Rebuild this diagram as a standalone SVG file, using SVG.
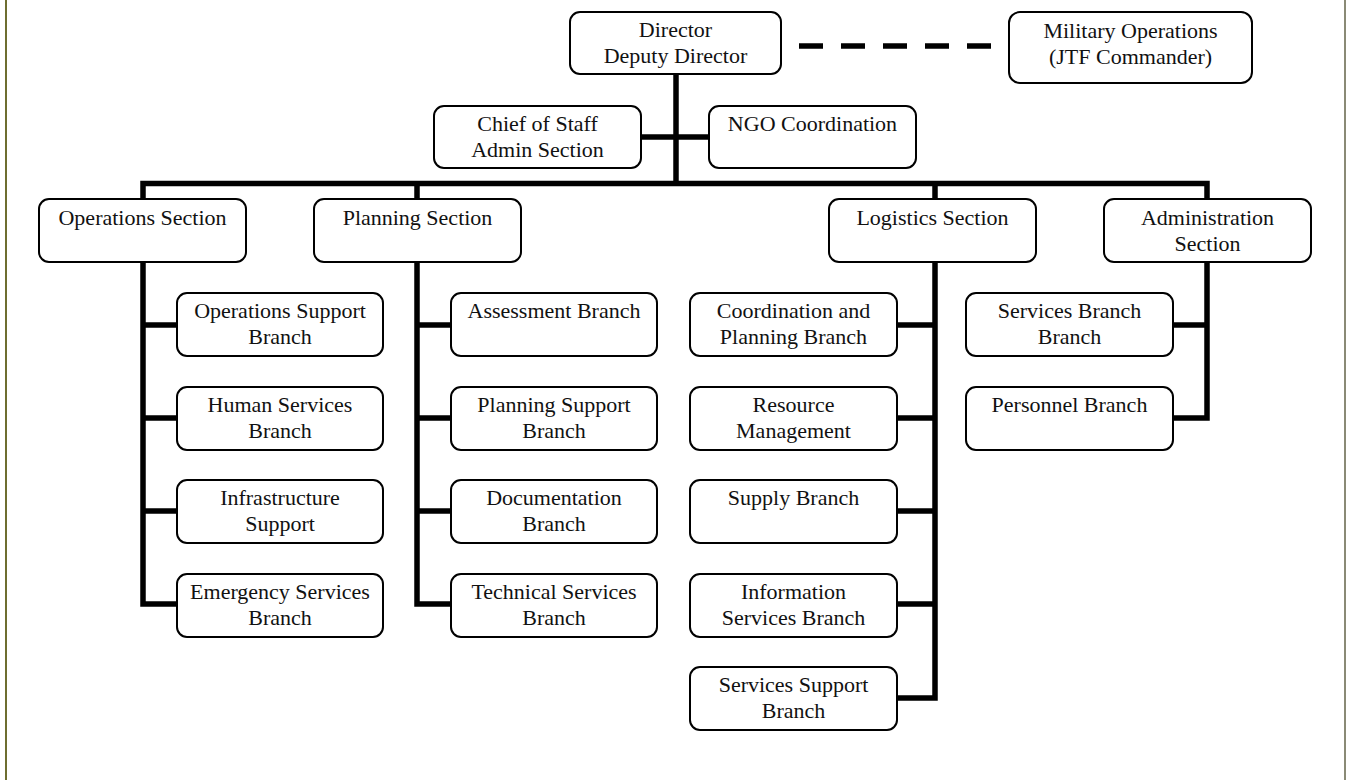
<svg xmlns="http://www.w3.org/2000/svg" width="1346" height="780" viewBox="0 0 1346 780">
<style>
.box{fill:#fff;stroke:#000;stroke-width:2}
.t{font-family:"Liberation Serif","Times New Roman",serif;font-size:22px;fill:#111;text-anchor:middle}
.c{fill:none;stroke:#000;stroke-width:5.5;stroke-linejoin:miter;stroke-linecap:butt}
.d{fill:none;stroke:#000;stroke-width:5.5;stroke-dasharray:24 18}
</style>
<rect x="0" y="0" width="1346" height="780" fill="#fff"/>
<line x1="6" y1="0" x2="6" y2="780" stroke="#6e6e30" stroke-width="2"/>
<line x1="1345" y1="0" x2="1345" y2="780" stroke="#8a8a76" stroke-width="2"/>
<g id="connectors">
<line class="d" x1="799" y1="46" x2="992" y2="46"/>
<path class="c" d="M676,74 V186"/>
<path class="c" d="M641,137 H709"/>
<path class="c" d="M143,199 V183.5 H1207 V199 M417,183.5 V199 M935,183.5 V199"/>
<path class="c" d="M143,262 V604 H177 M143,325 H177 M143,418 H177 M143,511 H177"/>
<path class="c" d="M417,262 V604 H451 M417,325 H451 M417,418 H451 M417,511 H451"/>
<path class="c" d="M935,262 V698 H897 M935,325 H897 M935,418 H897 M935,511 H897 M935,604 H897"/>
<path class="c" d="M1207,262 V418 H1173 M1207,325 H1173"/>
</g>
<g id="director"><rect class="box" x="570" y="12" width="211" height="62" rx="10"/><text class="t" x="675.5" y="37">Director</text><text class="t" x="675.5" y="63">Deputy Director</text></g>
<g id="military"><rect class="box" x="1009" y="12" width="243" height="71" rx="11"/><text class="t" x="1130.5" y="38">Military Operations</text><text class="t" x="1130.5" y="64">(JTF Commander)</text></g>
<g id="chief"><rect class="box" x="434" y="106" width="207" height="62" rx="10"/><text class="t" x="537.5" y="131">Chief of Staff</text><text class="t" x="537.5" y="157">Admin Section</text></g>
<g id="ngo"><rect class="box" x="709" y="106" width="207" height="62" rx="10"/><text class="t" x="812.5" y="131">NGO Coordination</text></g>
<g id="ops"><rect class="box" x="39" y="199" width="207" height="63" rx="10"/><text class="t" x="142.5" y="225">Operations Section</text></g>
<g id="plan"><rect class="box" x="314" y="199" width="207" height="63" rx="10"/><text class="t" x="417.5" y="225">Planning Section</text></g>
<g id="log"><rect class="box" x="829" y="199" width="207" height="63" rx="10"/><text class="t" x="932.5" y="225">Logistics Section</text></g>
<g id="adm"><rect class="box" x="1104" y="199" width="207" height="63" rx="10"/><text class="t" x="1207.5" y="225">Administration</text><text class="t" x="1207.5" y="251">Section</text></g>
<g id="ops1"><rect class="box" x="177" y="293" width="206" height="63" rx="10"/><text class="t" x="280" y="318">Operations Support</text><text class="t" x="280" y="344">Branch</text></g>
<g id="ops2"><rect class="box" x="177" y="387" width="206" height="63" rx="10"/><text class="t" x="280" y="412">Human Services</text><text class="t" x="280" y="438">Branch</text></g>
<g id="ops3"><rect class="box" x="177" y="480" width="206" height="63" rx="10"/><text class="t" x="280" y="505">Infrastructure</text><text class="t" x="280" y="531">Support</text></g>
<g id="ops4"><rect class="box" x="177" y="574" width="206" height="63" rx="10"/><text class="t" x="280" y="599">Emergency Services</text><text class="t" x="280" y="625">Branch</text></g>
<g id="plan1"><rect class="box" x="451" y="293" width="206" height="63" rx="10"/><text class="t" x="554" y="318">Assessment Branch</text></g>
<g id="plan2"><rect class="box" x="451" y="387" width="206" height="63" rx="10"/><text class="t" x="554" y="412">Planning Support</text><text class="t" x="554" y="438">Branch</text></g>
<g id="plan3"><rect class="box" x="451" y="480" width="206" height="63" rx="10"/><text class="t" x="554" y="505">Documentation</text><text class="t" x="554" y="531">Branch</text></g>
<g id="plan4"><rect class="box" x="451" y="574" width="206" height="63" rx="10"/><text class="t" x="554" y="599">Technical Services</text><text class="t" x="554" y="625">Branch</text></g>
<g id="log1"><rect class="box" x="690" y="293" width="207" height="63" rx="10"/><text class="t" x="793.5" y="318">Coordination and</text><text class="t" x="793.5" y="344">Planning Branch</text></g>
<g id="log2"><rect class="box" x="690" y="387" width="207" height="63" rx="10"/><text class="t" x="793.5" y="412">Resource</text><text class="t" x="793.5" y="438">Management</text></g>
<g id="log3"><rect class="box" x="690" y="480" width="207" height="63" rx="10"/><text class="t" x="793.5" y="505">Supply Branch</text></g>
<g id="log4"><rect class="box" x="690" y="574" width="207" height="63" rx="10"/><text class="t" x="793.5" y="599">Information</text><text class="t" x="793.5" y="625">Services Branch</text></g>
<g id="log5"><rect class="box" x="690" y="667" width="207" height="63" rx="10"/><text class="t" x="793.5" y="692">Services Support</text><text class="t" x="793.5" y="718">Branch</text></g>
<g id="adm1"><rect class="box" x="966" y="293" width="207" height="63" rx="10"/><text class="t" x="1069.5" y="318">Services Branch</text><text class="t" x="1069.5" y="344">Branch</text></g>
<g id="adm2"><rect class="box" x="966" y="387" width="207" height="63" rx="10"/><text class="t" x="1069.5" y="412">Personnel Branch</text></g>
</svg>
